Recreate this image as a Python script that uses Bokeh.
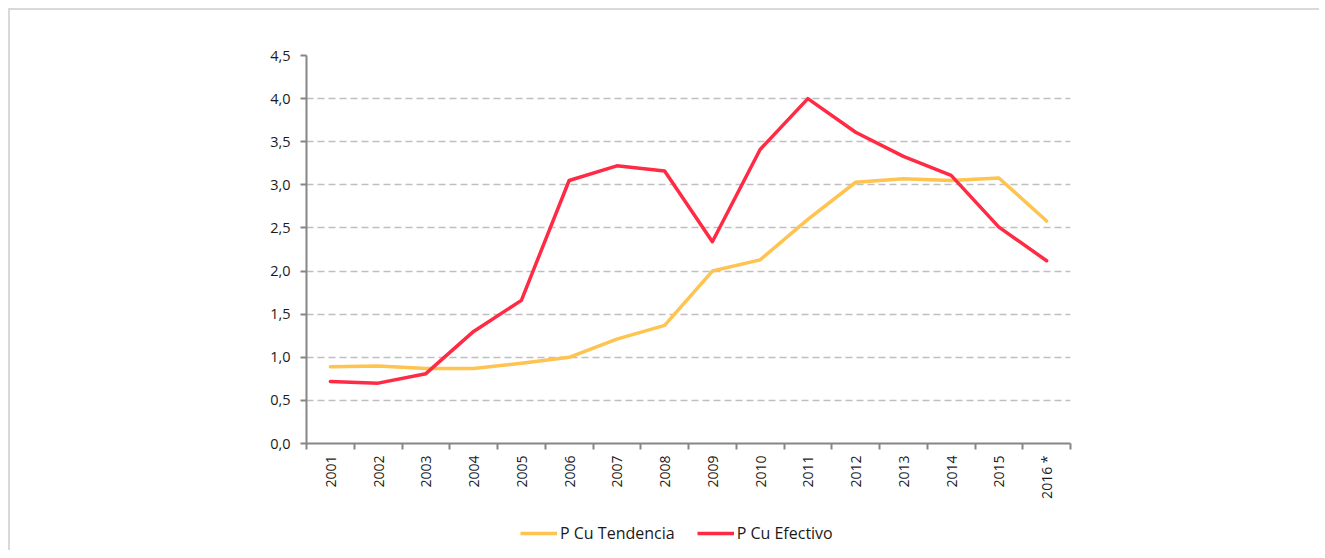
from bokeh.plotting import figure
from bokeh.layouts import column
from bokeh.models import FixedTicker, CustomJSTickFormatter, Range1d, Legend, LegendItem
from bokeh.embed import file_html
from bokeh.resources import INLINE
import math

years = ["2001", "2002", "2003", "2004", "2005", "2006", "2007", "2008",
         "2009", "2010", "2011", "2012", "2013", "2014", "2015", "2016 *"]
tendencia = [0.89, 0.90, 0.87, 0.87, 0.93, 1.00, 1.21, 1.37,
             2.00, 2.13, 2.60, 3.03, 3.07, 3.05, 3.08, 2.58]
efectivo = [0.72, 0.70, 0.81, 1.30, 1.66, 3.05, 3.22, 3.16,
            2.34, 3.41, 4.00, 3.61, 3.33, 3.11, 2.51, 2.12]
y_ticks = [0.0, 0.5, 1.0, 1.5, 2.0, 2.5, 3.0, 3.5, 4.0, 4.5]

FONT = "Open Sans"
TXT = "#1a1a1a"
AX = "#868686"
C_TEN = "#ffc34f"
C_EFE = "#ff2b45"

xs = [i + 0.5 for i in range(len(years))]

p = figure(width=1309, height=495, output_backend="svg", toolbar_location=None,
           x_range=Range1d(0, len(years)), y_range=Range1d(0, 4.5),
           min_border_left=296, min_border_right=249, min_border_top=45,
           min_border_bottom=62, outline_line_color=None,
           background_fill_color="white", border_fill_color="white")

# y axis
p.yaxis.ticker = FixedTicker(ticks=y_ticks, minor_ticks=[])
p.yaxis.formatter = CustomJSTickFormatter(code="return tick.toFixed(1).replace('.', ',');")
p.yaxis.axis_line_color = AX
p.yaxis.axis_line_width = 2
p.yaxis.major_tick_line_color = AX
p.yaxis.major_tick_line_width = 2
p.yaxis.major_tick_out = 6
p.yaxis.major_tick_in = 0
p.yaxis.major_label_standoff = 10
p.yaxis.major_label_text_font = FONT
p.yaxis.major_label_text_font_size = "14.5px"
p.yaxis.major_label_text_color = TXT

# x axis
p.xaxis.ticker = FixedTicker(ticks=xs, minor_ticks=list(range(len(years) + 1)))
p.xaxis.formatter = CustomJSTickFormatter(args=dict(labels=years),
                                          code="return labels[Math.floor(tick)];")
p.xaxis.axis_line_color = AX
p.xaxis.axis_line_width = 2
p.xaxis.major_tick_line_color = None
p.xaxis.major_tick_out = 6
p.xaxis.major_tick_in = 0
p.xaxis.minor_tick_line_color = AX
p.xaxis.minor_tick_line_width = 2
p.xaxis.minor_tick_out = 6
p.xaxis.minor_tick_in = 0
p.xaxis.major_label_orientation = math.pi / 2
p.xaxis.major_label_standoff = 6
p.xaxis.major_label_text_font = FONT
p.xaxis.major_label_text_font_size = "14px"
p.xaxis.major_label_text_color = TXT

p.xgrid.grid_line_color = None
p.ygrid.ticker = FixedTicker(ticks=y_ticks[1:], minor_ticks=[])
p.ygrid.grid_line_color = "#bfbfbf"
p.ygrid.grid_line_width = 1.5
p.ygrid.grid_line_dash = "7 4"

p.line(xs, tendencia, line_color=C_TEN, line_width=3.5, line_join="round", line_cap="round")
p.line(xs, efectivo, line_color=C_EFE, line_width=3.5, line_join="round", line_cap="round")

# legend strip (separate figure so the legend is not clipped by the main frame)
p2 = figure(width=1309, height=45, output_backend="svg", toolbar_location=None,
            x_range=Range1d(100, 101), y_range=Range1d(0, 1),
            min_border=0, outline_line_color=None,
            background_fill_color="white", border_fill_color="white")
p2.axis.visible = False
p2.grid.visible = False
l1 = p2.line(xs, tendencia, line_color=C_TEN, line_width=3.5)
l2 = p2.line(xs, efectivo, line_color=C_EFE, line_width=3.5)
legend = Legend(items=[LegendItem(label="P Cu Tendencia", renderers=[l1]),
                       LegendItem(label="P Cu Efectivo", renderers=[l2])],
                orientation="horizontal", location=(214, 6),
                padding=0, margin=0, spacing=22, glyph_width=37, glyph_height=20,
                label_height=20, label_standoff=3, border_line_color=None,
                background_fill_alpha=0, label_text_font=FONT,
                label_text_font_size="16px", label_text_color=TXT)
p2.add_layout(legend)

layout = column(p, p2, spacing=0)
layout.styles = {"margin-top": "8px", "margin-left": "8px",
                 "border-top": "2px solid #d9d9d9", "border-left": "2px solid #d9d9d9"}

open("out.html", "w").write(file_html(layout, INLINE))
